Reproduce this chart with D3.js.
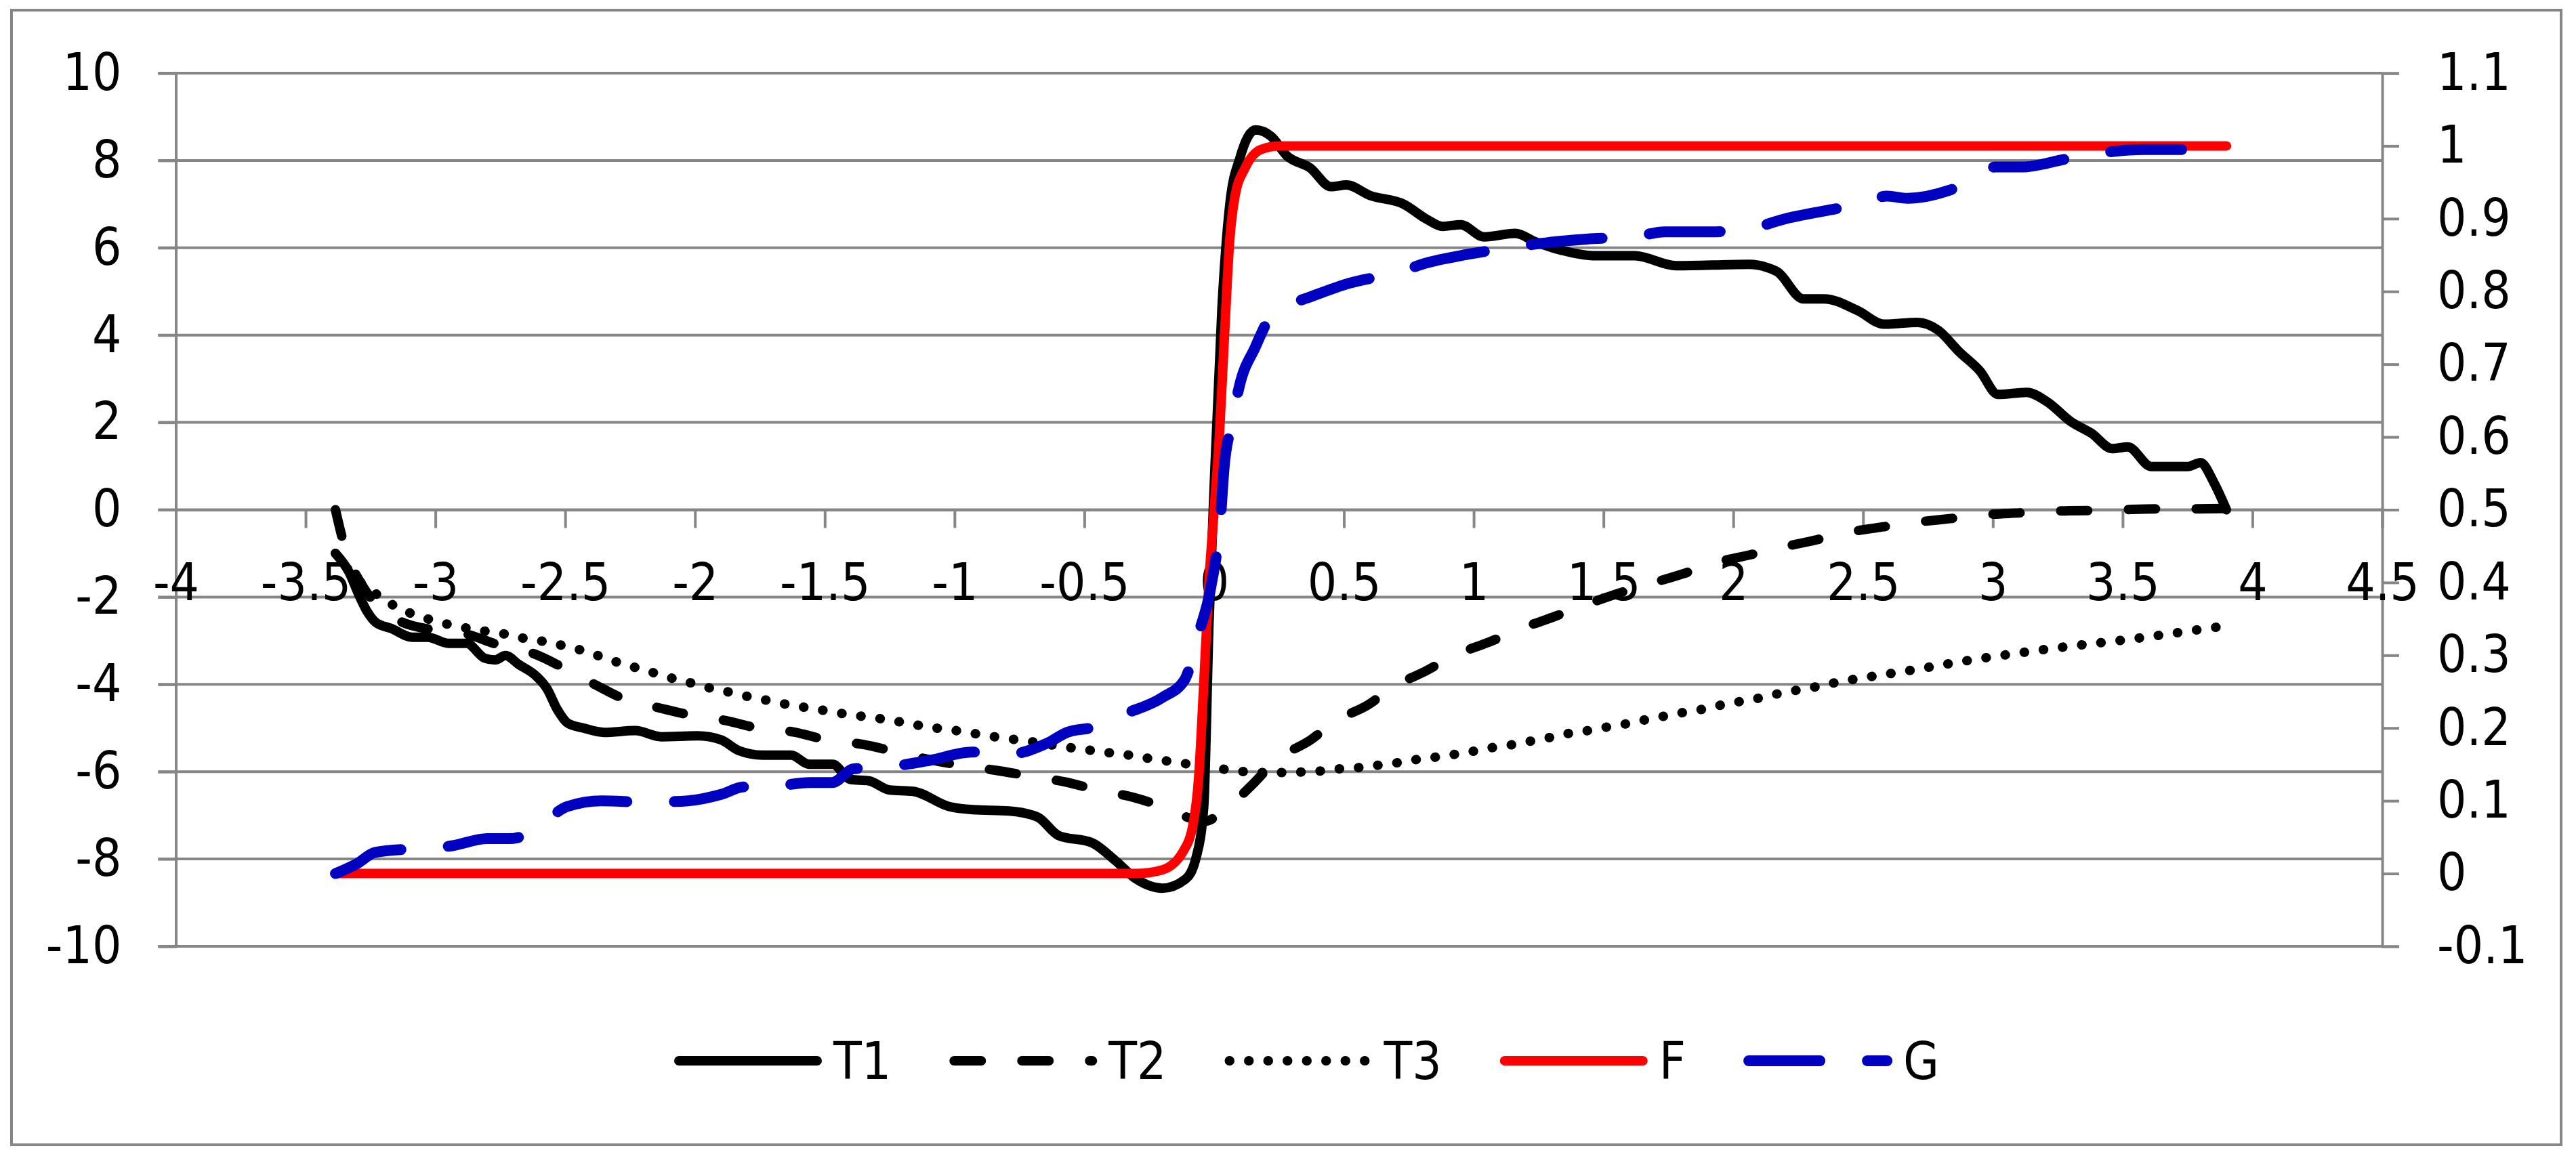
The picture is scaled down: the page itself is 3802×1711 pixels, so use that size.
<!DOCTYPE html>
<html>
<head>
<meta charset="utf-8">
<script src="https://cdn.jsdelivr.net/npm/d3@7"></script>
<style>
  body { margin: 0; background: #fff; }
  text { font-family: 'Liberation Sans Narrow', 'DejaVu Sans Condensed', 'Roboto Condensed', sans-serif; fill: #000; }
</style>
</head>
<body>
<script>
// Chart size
const W = 3802, H = 1711;

// Tick values
const xTicks = [-4, -3.5, -3, -2.5, -2, -1.5, -1, -0.5, 0, 0.5, 1, 1.5, 2, 2.5, 3, 3.5, 4, 4.5];
const yLeftTicks = [-10, -8, -6, -4, -2, 0, 2, 4, 6, 8, 10];
const yRightTicks = [-0.1, 0, 0.1, 0.2, 0.3, 0.4, 0.5, 0.6, 0.7, 0.8, 0.9, 1, 1.1];

// Series (x, value)
const seriesT1 = [[-3.385,-1.0],[-3.33,-1.46],[-3.30,-1.88],[-3.26,-2.36],[-3.23,-2.58],[-3.17,-2.72],[-3.09,-2.92],[-3.03,-2.92],[-2.95,-3.06],[-2.88,-3.06],[-2.81,-3.40],[-2.77,-3.44],[-2.73,-3.34],[-2.68,-3.54],[-2.61,-3.82],[-2.57,-4.1],[-2.53,-4.58],[-2.49,-4.89],[-2.43,-5.0],[-2.35,-5.1],[-2.23,-5.06],[-2.13,-5.2],[-1.99,-5.18],[-1.90,-5.27],[-1.83,-5.52],[-1.74,-5.62],[-1.63,-5.62],[-1.56,-5.83],[-1.47,-5.83],[-1.40,-6.18],[-1.33,-6.21],[-1.25,-6.42],[-1.16,-6.45],[-1.02,-6.8],[-0.93,-6.87],[-0.79,-6.9],[-0.68,-7.04],[-0.60,-7.46],[-0.47,-7.63],[-0.38,-8.04],[-0.30,-8.46],[-0.20,-8.67],[-0.11,-8.46],[-0.07,-7.98],[-0.04,-6.8],[-0.02,-2.64],[0.0,0.5],[0.03,4.6],[0.06,6.97],[0.10,8.07],[0.16,8.7],[0.22,8.55],[0.28,8.11],[0.37,7.83],[0.45,7.4],[0.51,7.44],[0.60,7.2],[0.73,7.0],[0.82,6.65],[0.88,6.49],[0.95,6.53],[1.04,6.25],[1.16,6.33],[1.24,6.13],[1.34,5.94],[1.46,5.82],[1.62,5.82],[1.78,5.59],[2.06,5.62],[2.13,5.55],[2.17,5.45],[2.27,4.83],[2.35,4.83],[2.48,4.56],[2.58,4.25],[2.71,4.29],[2.79,4.11],[2.87,3.62],[2.95,3.18],[3.02,2.64],[3.13,2.69],[3.21,2.47],[3.30,2.02],[3.38,1.75],[3.46,1.40],[3.52,1.44],[3.61,0.99],[3.75,0.99],[3.80,1.08],[3.85,0.64],[3.90,0.0]];

const seriesT2 = [[-3.385,0.0],[-3.35,-0.84],[-3.28,-1.75],[-3.2,-2.3],[-3.14,-2.54],[-3.01,-2.75],[-2.88,-2.85],[-2.76,-3.09],[-2.62,-3.3],[-2.51,-3.61],[-2.39,-3.99],[-2.27,-4.34],[-2.13,-4.55],[-2.02,-4.7],[-1.88,-4.83],[-1.76,-5.0],[-1.62,-5.09],[-1.5,-5.26],[-1.35,-5.38],[-1.23,-5.54],[-1.10,-5.72],[-0.97,-5.86],[-0.84,-5.97],[-0.71,-6.10],[-0.57,-6.24],[-0.45,-6.42],[-0.31,-6.59],[-0.20,-6.8],[-0.10,-7.05],[-0.04,-7.14],[0.05,-6.83],[0.15,-6.28],[0.24,-5.73],[0.37,-5.28],[0.47,-4.83],[0.59,-4.48],[0.69,-4.06],[0.82,-3.68],[0.92,-3.35],[1.06,-3.03],[1.17,-2.75],[1.31,-2.45],[1.42,-2.2],[1.56,-1.91],[1.67,-1.71],[1.81,-1.46],[1.92,-1.23],[2.06,-1.04],[2.18,-0.87],[2.32,-0.69],[2.44,-0.52],[2.58,-0.39],[2.70,-0.29],[2.84,-0.2],[2.96,-0.12],[3.11,-0.07],[3.23,-0.03],[3.37,-0.02],[3.49,0.0],[3.63,0.02],[3.76,0.02],[3.90,0.03]];

const seriesT3 = [[-3.385,-1.0],[-3.3,-1.6],[-3.23,-1.92],[-3.17,-2.16],[-3.10,-2.36],[-3.03,-2.5],[-2.955,-2.62],[-2.88,-2.71],[-2.81,-2.78],[-2.73,-2.85],[-2.655,-2.95],[-2.58,-3.02],[-2.51,-3.11],[-2.43,-3.23],[-2.36,-3.37],[-2.29,-3.51],[-2.22,-3.63],[-2.145,-3.76],[-2.07,-3.89],[-2.0,-3.99],[-1.925,-4.11],[-1.85,-4.2],[-1.78,-4.3],[-1.7,-4.39],[-1.63,-4.48],[-1.55,-4.55],[-1.48,-4.62],[-1.40,-4.70],[-1.33,-4.75],[-1.25,-4.82],[-1.18,-4.89],[-1.10,-4.98],[-1.03,-5.03],[-0.95,-5.1],[-0.88,-5.17],[-0.80,-5.24],[-0.73,-5.29],[-0.58,-5.43],[-0.50,-5.49],[-0.43,-5.55],[-0.35,-5.6],[-0.28,-5.67],[-0.20,-5.74],[-0.13,-5.8],[0.02,-5.93],[0.10,-5.99],[0.17,-6.02],[0.25,-6.02],[0.33,-6.01],[0.40,-5.99],[0.47,-5.94],[0.55,-5.91],[0.62,-5.86],[0.70,-5.8],[0.77,-5.73],[0.85,-5.67],[0.92,-5.61],[1.00,-5.53],[1.07,-5.45],[1.15,-5.38],[1.22,-5.3],[1.30,-5.21],[1.37,-5.12],[1.45,-5.05],[1.52,-4.97],[1.60,-4.89],[1.67,-4.8],[1.75,-4.71],[1.82,-4.63],[1.90,-4.55],[1.97,-4.45],[2.05,-4.37],[2.12,-4.29],[2.19,-4.19],[2.27,-4.11],[2.34,-4.03],[2.41,-3.94],[2.49,-3.86],[2.64,-3.72],[2.94,-3.42],[3.24,-3.17],[3.55,-2.95],[3.85,-2.70],[3.90,-2.66]];

// right axis series
const seriesF = [[-3.385,0],[-0.3,0],[-0.2,0.005],[-0.12,0.03],[-0.08,0.07],[-0.06,0.13],[-0.04,0.26],[-0.02,0.4],[0.0,0.5],[0.02,0.6],[0.04,0.74],[0.06,0.87],[0.08,0.93],[0.12,0.97],[0.18,0.995],[0.25,1],[3.9,1]];

const seriesG = [[-3.385,0.0],[-3.305,0.013],[-3.232,0.029],[-3.086,0.034],[-2.939,0.038],[-2.80,0.048],[-2.713,0.048],[-2.633,0.056],[-2.493,0.092],[-2.36,0.10],[-2.187,0.098],[-2.027,0.10],[-1.897,0.109],[-1.812,0.119],[-1.727,0.119],[-1.557,0.125],[-1.472,0.125],[-1.388,0.144],[-1.274,0.146],[-1.09,0.156],[-0.934,0.167],[-0.793,0.164],[-0.644,0.179],[-0.567,0.194],[-0.453,0.202],[-0.354,0.218],[-0.199,0.242],[-0.114,0.266],[-0.057,0.333],[-0.014,0.391],[0.027,0.50],[0.038,0.556],[0.068,0.618],[0.098,0.671],[0.158,0.723],[0.218,0.766],[0.278,0.78],[0.367,0.792],[0.518,0.811],[0.717,0.827],[0.816,0.839],[0.977,0.851],[1.157,0.861],[1.257,0.866],[1.436,0.872],[1.616,0.875],[1.736,0.882],[1.915,0.882],[2.095,0.889],[2.191,0.899],[2.371,0.912],[2.491,0.92],[2.591,0.931],[2.671,0.928],[2.832,0.939],[3.012,0.971],[3.111,0.971],[3.282,0.982],[3.452,0.992],[3.582,0.995],[3.752,0.995],[3.902,1.0]];

const seriesNames = ['T1', 'T2', 'T3', 'F', 'G'];

const grey = '#868686';

let svg = d3.select('body').append('svg')
    .attr('width', W)
    .attr('height', H);

svg.append('rect')
    .attr('x', 17).attr('y', 15)
    .attr('width', 3763).attr('height', 1675)
    .attr('fill', '#fff')
    .attr('stroke', grey)
    .attr('stroke-width', 4);

let sclX = d3.scaleLinear().domain([-4, 4.5]).range([259.5, 3516]);
let sclL = d3.scaleLinear().domain([-10, 10]).range([1397, 108]);
let sclR = d3.scaleLinear().domain([-0.1, 1.1]).range([1397, 108]);

// gridlines
svg.append('g').selectAll('line')
    .data(yLeftTicks).enter()
    .append('line')
    .attr('x1', sclX(-4) - 26)
    .attr('x2', sclX(4.5))
    .attr('y1', d => sclL(d))
    .attr('y2', d => sclL(d))
    .attr('stroke', grey)
    .attr('stroke-width', 4);

// left axis
let axL = svg.append('g')
    .attr('transform', `translate(${sclX(-4)},0)`)
    .call(d3.axisLeft(sclL).tickValues(yLeftTicks).tickSize(26).tickPadding(54).tickFormat(d => String(d)));

// right axis
let axR = svg.append('g')
    .attr('transform', `translate(${sclX(4.5)},0)`)
    .call(d3.axisRight(sclR).tickValues(yRightTicks).tickSize(25).tickPadding(56).tickFormat(d => String(+d.toFixed(1))));

// x axis crossing at zero
let axX = svg.append('g')
    .attr('transform', `translate(0,${sclL(0)})`)
    .call(d3.axisBottom(sclX).tickValues(xTicks).tickSize(27).tickFormat(d => String(d)));

[axL, axR, axX].forEach(ax => {
    ax.select('.domain').attr('stroke', grey).attr('stroke-width', 4);
    ax.selectAll('.tick line').attr('stroke', grey).attr('stroke-width', 4);
    ax.selectAll('text')
        .attr('font-size', 76)
        .attr('fill', '#000')
        .style('font-family', null);
    ax.attr('font-family', null).attr('font-size', null);
});
axX.selectAll('text').attr('y', 107).attr('dy', '0.35em');

// series
let lineL = d3.line().x(d => sclX(d[0])).y(d => sclL(d[1])).curve(d3.curveMonotoneX);
let lineR = d3.line().x(d => sclX(d[0])).y(d => sclR(d[1])).curve(d3.curveMonotoneX);

const styles = {
    T1: {color: '#000', width: 14, dash: null},
    T2: {color: '#000', width: 14, dash: '40,60'},
    T3: {color: '#000', width: 14, dash: '0.5,28'},
    F: {color: '#ff0000', width: 14, dash: null},
    G: {color: '#0000c0', width: 16, dash: '105,70'}
};

let plot = svg.append('g');
[[seriesT1, lineL, 'T1'], [seriesT2, lineL, 'T2'], [seriesT3, lineL, 'T3'],
 [seriesF, lineR, 'F'], [seriesG, lineR, 'G']].forEach(([dt, ln, nm]) => {
    plot.append('path')
        .datum(dt)
        .attr('d', ln)
        .attr('fill', 'none')
        .attr('stroke', styles[nm].color)
        .attr('stroke-width', styles[nm].width)
        .attr('stroke-linecap', 'round')
        .attr('stroke-linejoin', 'round')
        .attr('stroke-dasharray', styles[nm].dash);
});

// legend
let lgd = svg.append('g');
let lx = 994, ly = 1566;
seriesNames.forEach(nm => {
    lgd.append('line')
        .attr('x1', lx + 8).attr('x2', lx + 212)
        .attr('y1', ly).attr('y2', ly)
        .attr('stroke', styles[nm].color)
        .attr('stroke-width', styles[nm].width)
        .attr('stroke-linecap', 'round')
        .attr('stroke-dasharray', styles[nm].dash);
    let t = lgd.append('text')
        .attr('x', lx + 236).attr('y', ly)
        .attr('dy', '0.35em')
        .attr('font-size', 76)
        .text(nm);
    lx += 236 + t.node().getComputedTextLength() + 85;
});
</script>
</body>
</html>
